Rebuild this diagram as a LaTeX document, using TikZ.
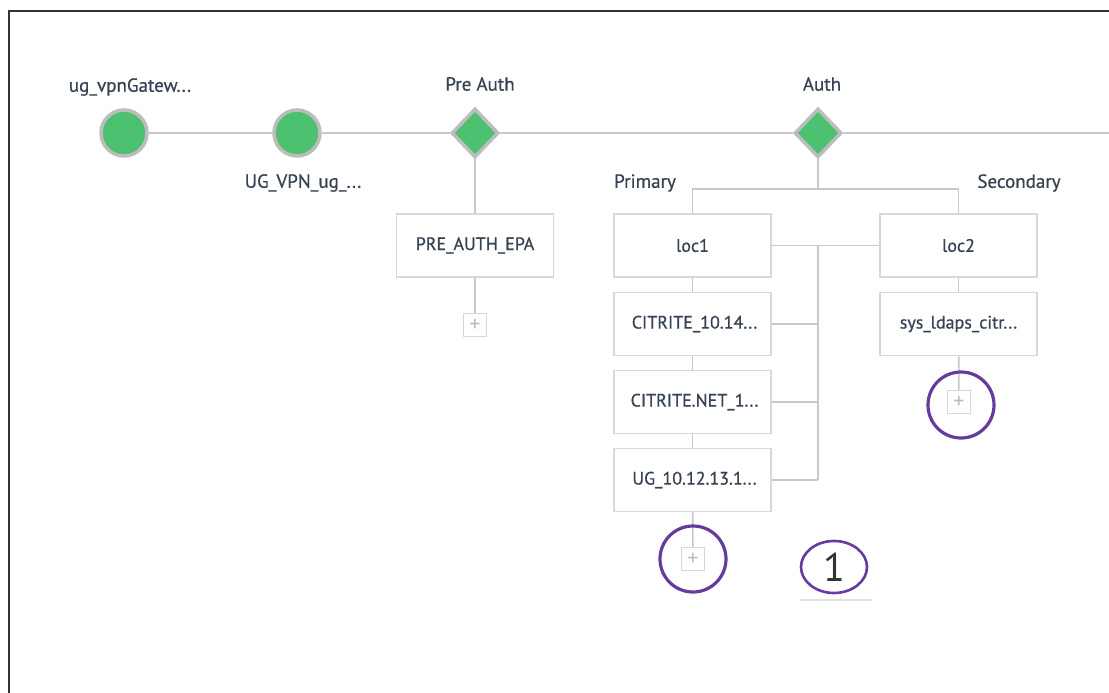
\documentclass[tikz,border=0pt]{standalone}
\usepackage{fontspec}
\setmainfont{PT Sans}
\newfontfamily\labelfont{PT Sans}[UprightFeatures={FakeBold=0.7}]
\usetikzlibrary{shapes.geometric}
\definecolor{okgreen}{HTML}{4CC170}
\definecolor{ringgray}{HTML}{BDBDBD}
\definecolor{linegray}{HTML}{C9C9C9}
\definecolor{boxgray}{HTML}{D8D8D8}
\definecolor{txt}{HTML}{374354}
\definecolor{hilite}{HTML}{673AA0}
\tikzset{
  x=1pt, y=-1pt,
  lbl/.style={text=txt, font=\labelfont\fontsize{19}{22}\selectfont, inner sep=0pt},
  dot/.style={circle, fill=okgreen, draw=ringgray, line width=3.5pt, minimum size=46pt, inner sep=0pt},
  gate/.style={diamond, fill=okgreen, draw=ringgray, line width=3.5pt, minimum width=47pt, minimum height=49pt, inner sep=0pt},
  card/.style={rectangle, draw=boxgray, line width=1.6pt, fill=white, minimum width=157pt, minimum height=63pt, inner sep=0pt, text=txt, font=\labelfont\fontsize{18}{22}\selectfont},
  plusbox/.style={rectangle, draw=boxgray, line width=1.2pt, fill=white, minimum size=23pt, inner sep=0pt, text=linegray!80!gray, font=\fontsize{22}{22}\selectfont},
  conn/.style={draw=linegray, line width=1.6pt},
  ring/.style={draw=hilite, line width=3.2pt}
}
\begin{document}
\begin{tikzpicture}
\useasboundingbox (0,0) rectangle (1109,693);
% frame
\draw[line width=2.2pt, black!80] (1109,11) -- (9,11) -- (9,693);
% main line
\coordinate (mainend) at (1109,133);
\node[dot] (g1) at (124,133) {};
\node[dot] (g2) at (297,133) {};
\node[gate] (pre) at (475,133) {};
\node[gate] (auth) at (818,133) {};
\draw[conn] (g1) -- (g2);
\draw[conn] (g2) -- (pre);
\draw[conn] (pre) -- (auth);
\draw[conn] (auth) -- (mainend);
% labels
\node[lbl] (l1) at (130,87) {ug\_vpnGatew...};
\node[lbl] (l2) at (303,183) {UG\_VPN\_ug\_...};
\node[lbl] (l3) at (480,84) {Pre Auth};
\node[lbl] (l4) at (822,84) {Auth};
\node[lbl] (lp) at (645,183) {Primary};
\node[lbl] (ls) at (1019,183) {Secondary};
% pre auth branch
\node[card] (epa) at (475,245.5) {PRE\_AUTH\_EPA};
\node[plusbox] (p0) at (475,325) {+};
\draw[conn] (pre) -- (epa);
\draw[conn] (epa) -- (p0);
% auth branch
\node[card] (loc1) at (692.5,245.5) {loc1};
\node[card] (c1) at (692.5,324) {\hspace*{4pt}CITRITE\_10.14...};
\node[card] (c2) at (692.5,402) {\hspace*{4pt}CITRITE.NET\_1...};
\node[card] (c3) at (692.5,480) {\hspace*{4pt}UG\_10.12.13.1...};
\node[card] (loc2) at (958.5,245.5) {loc2};
\node[card] (s1) at (958.5,324) {sys\_ldaps\_citr...};
\node[plusbox] (p1) at (693,559) {+};
\node[plusbox] (p2) at (959,402) {+};
\coordinate (split) at (818,189);
\coordinate (bus) at (818,246);
\coordinate (busend) at (818,480);
\draw[conn] (auth) -- (split);
\draw[conn] (loc1.north) |- (split) -| (loc2.north);
\draw[conn] (loc1) -- (c1);
\draw[conn] (c1) -- (c2);
\draw[conn] (c2) -- (c3);
\draw[conn] (c3) -- (p1);
\draw[conn] (loc2) -- (s1);
\draw[conn] (s1) -- (p2);
\draw[conn] (loc1.east) -- (loc2.west);
\draw[conn] (bus) -- (busend);
\draw[conn] (c1.east) -- (c1.east -| bus);
\draw[conn] (c2.east) -- (c2.east -| bus);
\draw[conn] (c3.east) -- (busend);
% highlights
\draw[ring] (p1) circle (33);
\draw[ring] (p2) ++(2,3) circle (33);
\node[ellipse, draw=hilite, line width=2.6pt, minimum width=66pt, minimum height=52pt, inner sep=0pt, text=black!80, font=\fontsize{40}{40}\selectfont] (one) at (834,567) {1};
\draw[line width=1.5pt, black!12] (800,600) -- (872,600);
\end{tikzpicture}
\end{document}
